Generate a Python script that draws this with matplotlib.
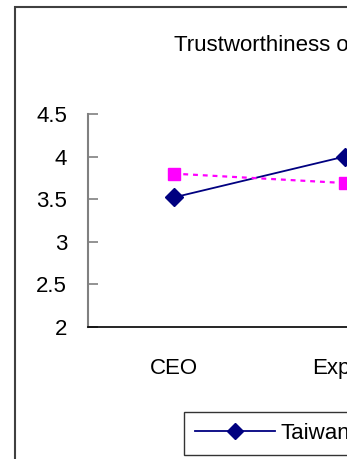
import matplotlib
matplotlib.use("Agg")
import matplotlib.pyplot as plt
from matplotlib.patches import Rectangle

plt.rcParams['font.family'] = ['Liberation Sans', 'DejaVu Sans']

categories = ["CEO", "Expert"]
taiwan = [3.52, 4.0]
usa = [3.80, 3.69]
series_names = ["Taiwan", "USA"]
y_ticks = [2, 2.5, 3, 3.5, 4, 4.5]
y_tick_labels = ["2", "2.5", "3", "3.5", "4", "4.5"]
title = "Trustworthiness of Information Sources"

W, H = 347, 459
fig = plt.figure(figsize=(W / 100, H / 100), dpi=100)

def px(x0, y0, w, h):
    return [x0 / W, 1 - (y0 + h) / H, w / W, h / H]

# chart-area frame
fig.patches.append(Rectangle((14.5 / W, -0.2), 1.2, 1 - 7 / H + 0.2,
                             transform=fig.transFigure, fill=False,
                             edgecolor="#404040", linewidth=1.5))

ax = fig.add_axes(px(88, 114, 342, 213))
x = list(range(len(categories)))
ax.plot(x, taiwan, color="#000080", linewidth=1.3, marker="D",
        markersize=9, label=series_names[0], clip_on=False)
ax.plot(x, usa, color="#FF00FF", linewidth=1.6, linestyle=(0, (2.2, 2.2)),
        marker="s", markersize=9, label=series_names[1], clip_on=False)

ax.set_xlim(-0.5, len(categories) - 0.5)
ax.set_ylim(2, 4.5)
ax.set_yticks(y_ticks)
ax.set_yticklabels(y_tick_labels)
ax.set_xticks(x)
ax.set_xticklabels(categories)

for s in ["top", "right"]:
    ax.spines[s].set_visible(False)
ax.spines["left"].set_color("#808080")
ax.spines["left"].set_linewidth(1.5)
ax.spines["bottom"].set_color("black")
ax.spines["bottom"].set_linewidth(1.2)
ax.tick_params(axis="y", direction="in", length=7, width=1.2,
               color="#808080", labelsize=16, pad=15)
ax.tick_params(axis="x", length=0, labelsize=16, pad=22)

fig.text(174 / W, 1 - 51 / H, title, fontsize=16, ha="left",
         va="baseline")

leg = fig.legend(loc="upper left", bbox_to_anchor=(184 / W, 1 - 412 / H),
                 ncol=2, fontsize=16, frameon=True, fancybox=False,
                 edgecolor="black", handlelength=3.6, handletextpad=0.25,
                 borderpad=0.5, borderaxespad=0, columnspacing=1.5,
                 markerscale=0.85)
leg.get_frame().set_linewidth(1.0)

fig.savefig("out.png", dpi=100)
